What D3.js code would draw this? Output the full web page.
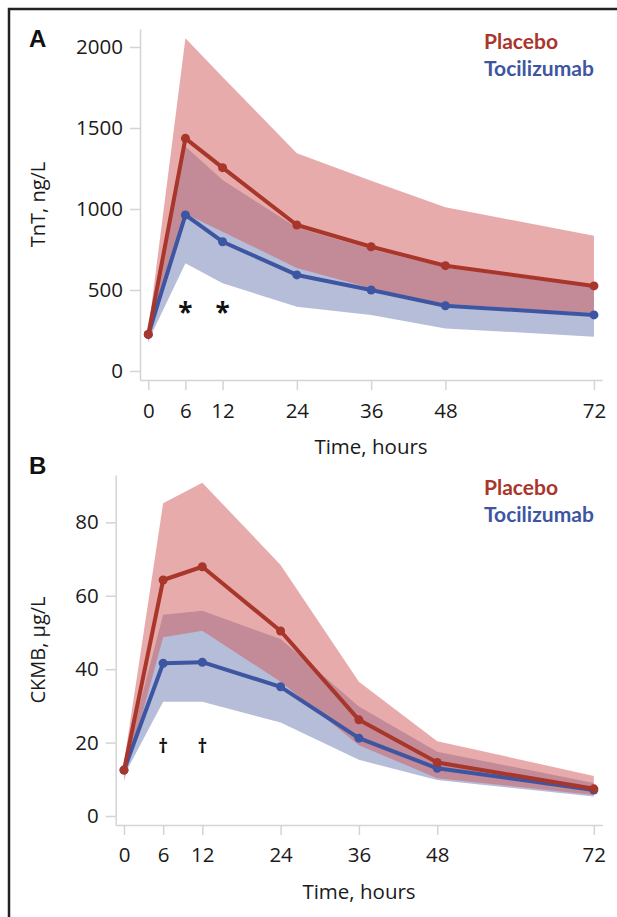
<!DOCTYPE html>
<html>
<head>
<meta charset="utf-8">
<script src="https://cdn.jsdelivr.net/npm/d3@7"></script>
<style>
  html, body { margin: 0; padding: 0; background: #fff; }
  svg { display: block; }
</style>
</head>
<body>
<svg id="chart" width="617" height="917"></svg>
<script>
// ---------- DATA ----------
const hours = [0, 6, 12, 24, 36, 48, 72];
const xTickLabels = [0, 6, 12, 24, 36, 48, 72];
const seriesNames = ["Placebo", "Tocilizumab"];

// Panel A: TnT, ng/L
const tntTicks = [0, 500, 1000, 1500, 2000];
const tntPlacebo   = [226, 1436, 1255, 901, 767, 650, 525];
const tntPlaceboHi = [250, 2054, 1815, 1344, 1175, 1010, 835];
const tntPlaceboLo = [175, 970, 860, 636, 510, 415, 358];
const tntToci      = [226, 963, 798, 593, 500, 403, 346];
const tntTociHi    = [240, 1385, 1179, 885, 752, 638, 515];
const tntTociLo    = [185, 665, 541, 397, 346, 263, 212];
const tntSigHours  = [6, 12];
const tntSigValue  = 387;

// Panel B: CKMB, µg/L
const ckmbTicks = [0, 20, 40, 60, 80];
const ckmbPlacebo   = [12.5, 64.3, 67.9, 50.4, 26.2, 14.6, 7.4];
const ckmbPlaceboHi = [14.5, 85.2, 90.8, 68.4, 36.6, 20.4, 10.9];
const ckmbPlaceboLo = [9.5, 48.7, 50.5, 36.6, 19.3, 10.3, 5.7];
const ckmbToci      = [12.5, 41.6, 41.9, 35.2, 21.2, 13.0, 7.1];
const ckmbTociHi    = [14, 54.8, 55.9, 48.2, 29.8, 17.5, 9.0];
const ckmbTociLo    = [11, 31.1, 31.1, 25.5, 15.3, 9.8, 5.3];
const ckmbSigHours  = [6, 12];
const ckmbSigValue  = 18.9;

// ---------- STYLE ----------
const RED = "#a8362b", BLUE = "#3e56a1";
const RED_BAND = "rgb(209,87,87)", BLUE_BAND = "rgb(107,123,179)";
const AXIS = "#d4d4d4";
const FONT = "'Open Sans', sans-serif";
const LEG_FONT = "Lato, 'Open Sans', sans-serif";

const svg = d3.select("#chart");

// outer frame (left + top visible)
svg.append("path").attr("d", "M9,917V9H617")
  .attr("fill", "none").attr("stroke", "#222").attr("stroke-width", 2.5);

function panel(cfg) {
  const g = svg.append("g");
  const x = d3.scaleLinear().domain(cfg.xDomain).range([cfg.left, cfg.right]);
  const y = d3.scaleLinear().domain(cfg.yDomain).range([cfg.bottom, cfg.top]);

  const rowsP = hours.map((h, i) => ({h, m: cfg.p[i], lo: cfg.pLo[i], hi: cfg.pHi[i]}));
  const rowsT = hours.map((h, i) => ({h, m: cfg.t[i], lo: cfg.tLo[i], hi: cfg.tHi[i]}));

  const area = d3.area().x(d => x(d.h)).y0(d => y(d.lo)).y1(d => y(d.hi));
  const line = d3.line().x(d => x(d.h)).y(d => y(d.m));

  // axes
  const yAxis = d3.axisLeft(y).tickValues(cfg.yTicks).tickFormat(d3.format("d"))
    .tickSize(10).tickSizeOuter(0).tickPadding(7);
  const xAxis = d3.axisBottom(x).tickValues(xTickLabels).tickFormat(d3.format("d"))
    .tickSize(10).tickSizeOuter(0).tickPadding(cfg.xPad);

  const ya = g.append("g").attr("transform", `translate(${cfg.left},0)`).call(yAxis);
  const xa = g.append("g").attr("transform", `translate(0,${cfg.bottom})`).call(xAxis);
  [ya, xa].forEach(a => {
    a.select(".domain").attr("stroke", AXIS).attr("stroke-width", 1.5);
    a.selectAll(".tick line").attr("stroke", AXIS).attr("stroke-width", 1.5);
    a.selectAll(".tick text").attr("fill", "#1a1a1a")
      .style("font-family", FONT).style("font-size", "20.5px");
  });

  // bands
  g.append("path").datum(rowsT).attr("d", area)
    .attr("fill", BLUE_BAND).attr("fill-opacity", 0.5);
  g.append("path").datum(rowsP).attr("d", area)
    .attr("fill", RED_BAND).attr("fill-opacity", 0.5);

  // lines + markers
  [[rowsT, BLUE], [rowsP, RED]].forEach(([rows, col]) => {
    g.append("path").datum(rows).attr("d", line)
      .attr("fill", "none").attr("stroke", col).attr("stroke-width", 4)
      .attr("stroke-linejoin", "round");
    g.selectAll(null).data(rows).enter().append("circle")
      .attr("cx", d => x(d.h)).attr("cy", d => y(d.m)).attr("r", 4.5)
      .attr("fill", col);
  });

  // significance marks
  g.selectAll(null).data(cfg.sigHours).enter().append("text")
    .attr("x", d => x(d)).attr("y", y(cfg.sigValue) + cfg.sigDy)
    .attr("text-anchor", "middle")
    .style("font-family", cfg.sigFont).style("font-size", cfg.sigSize + "px")
    .style("font-weight", "bold").attr("fill", "#111")
    .text(cfg.sigSymbol);

  // axis titles
  g.append("text")
    .attr("x", (cfg.left + cfg.right) / 2 + cfg.xTitleDx).attr("y", cfg.xTitleY)
    .attr("text-anchor", "middle")
    .style("font-family", FONT).style("font-size", "20.5px").attr("fill", "#1a1a1a")
    .text("Time, hours");
  g.append("text")
    .attr("transform", `translate(45,${(cfg.top + cfg.bottom) / 2}) rotate(-90)`)
    .attr("text-anchor", "middle")
    .style("font-family", FONT).style("font-size", "20px").attr("fill", "#1a1a1a")
    .text(cfg.yTitle);

  // panel letter
  g.append("text").attr("x", 29).attr("y", cfg.letterY)
    .style("font-family", "'Liberation Sans', Arial, sans-serif")
    .style("font-size", "24px").style("font-weight", "bold").attr("fill", "#111")
    .text(cfg.letter);

  // legend
  [[seriesNames[0], RED], [seriesNames[1], BLUE]].forEach(([name, col], i) => {
    g.append("text").attr("x", 484).attr("y", cfg.legendY + i * 27)
      .style("font-family", LEG_FONT).style("font-size", "21px")
      .style("font-weight", "bold").attr("fill", col)
      .text(name);
  });
}

panel({
  left: 140, right: 602, top: 29, bottom: 380,
  xDomain: [-1.34, 73.3], yDomain: [-55.6, 2111],
  yTicks: tntTicks, xPad: 13,
  p: tntPlacebo, pLo: tntPlaceboLo, pHi: tntPlaceboHi,
  t: tntToci, tLo: tntTociLo, tHi: tntTociHi,
  sigHours: tntSigHours, sigValue: tntSigValue, sigSymbol: "*",
  sigFont: FONT, sigSize: 26, sigDy: 14,
  xTitleY: 454, xTitleDx: 0, yTitle: "TnT, ng/L",
  letter: "A", letterY: 47, legendY: 49
});

panel({
  left: 115.7, right: 602.3, top: 475, bottom: 825,
  xDomain: [-1.27, 73.3], yDomain: [-2.45, 92.9],
  yTicks: ckmbTicks, xPad: 12,
  p: ckmbPlacebo, pLo: ckmbPlaceboLo, pHi: ckmbPlaceboHi,
  t: ckmbToci, tLo: ckmbTociLo, tHi: ckmbTociHi,
  sigHours: ckmbSigHours, sigValue: ckmbSigValue, sigSymbol: "†",
  sigFont: FONT, sigSize: 19, sigDy: 6,
  xTitleY: 899, xTitleDx: 0, yTitle: "CKMB, µg/L",
  letter: "B", letterY: 474, legendY: 495
});
</script>
</body>
</html>
